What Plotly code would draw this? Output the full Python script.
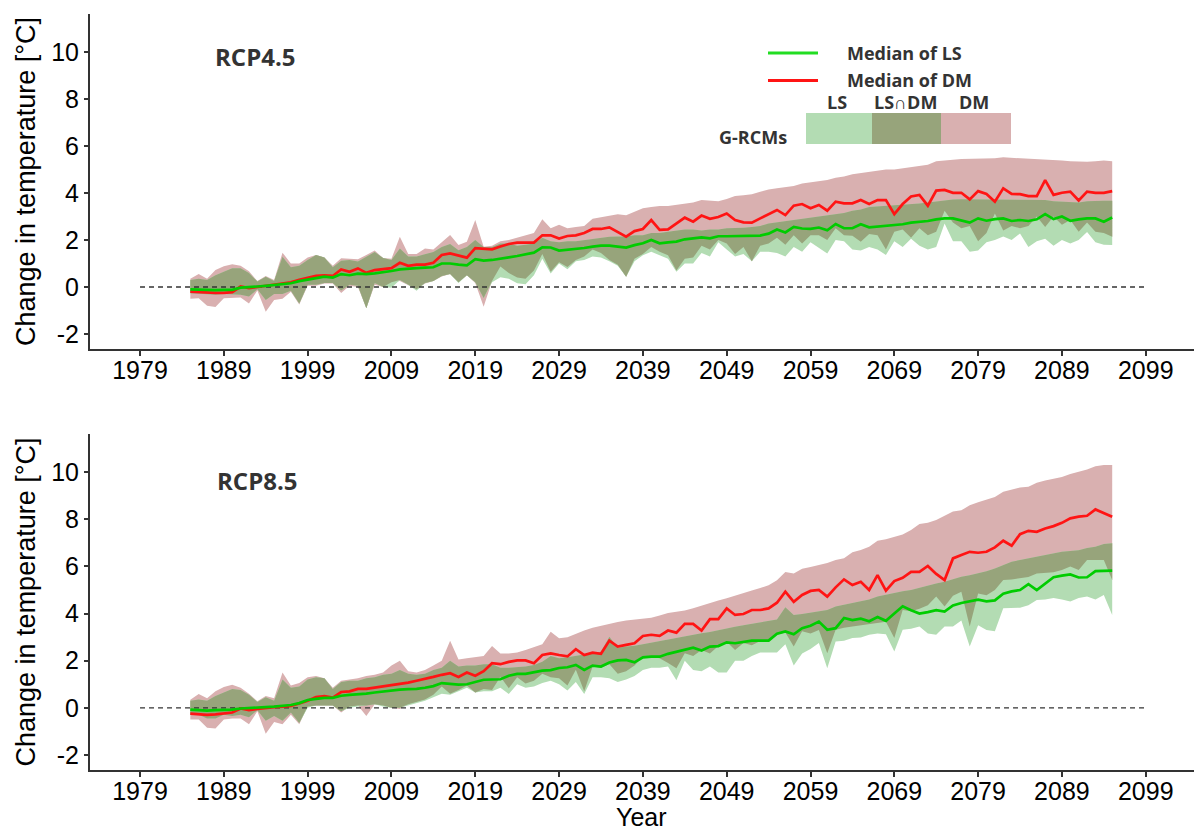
import numpy as np
import plotly.graph_objects as go

YEARS = list(range(1985, 2096))
TICK_YEARS = list(range(1979, 2100, 10))
Y_TICKS = [-2, 0, 2, 4, 6, 8, 10]

# ---------------- RCP4.5 ----------------
LS_MED_45 = [-0.10, -0.12, -0.13, -0.13, -0.12, -0.12, -0.03, -0.02, 0.02, 0.05,
             0.08, 0.12, 0.16, 0.25, 0.33, 0.38, 0.44, 0.40, 0.55, 0.50,
             0.57, 0.55, 0.58, 0.62, 0.68, 0.75, 0.79, 0.80, 0.82, 0.84,
             1.00, 1.00, 0.95, 0.92, 1.18, 1.12, 1.15, 1.22, 1.26, 1.32,
             1.38, 1.46, 1.69, 1.68, 1.55, 1.58, 1.60, 1.66, 1.72, 1.76,
             1.76, 1.72, 1.68, 1.78, 1.86, 2.00, 1.86, 1.90, 1.93, 2.03,
             2.07, 2.11, 2.07, 2.16, 2.16, 2.16, 2.17, 2.18, 2.19, 2.27,
             2.45, 2.32, 2.56, 2.49, 2.47, 2.53, 2.41, 2.68, 2.50, 2.50,
             2.67, 2.54, 2.57, 2.60, 2.61, 2.67, 2.74, 2.77, 2.81, 2.88,
             2.92, 2.92, 2.82, 2.74, 2.92, 2.82, 2.89, 2.92, 2.81, 2.85,
             2.81, 2.88, 3.10, 2.89, 3.00, 2.82, 2.88, 2.92, 2.92, 2.78,
             2.96]
DM_MED_45 = [-0.20, -0.22, -0.25, -0.25, -0.25, -0.22, 0.02, -0.05, 0.00, 0.05,
             0.08, 0.12, 0.20, 0.30, 0.40, 0.47, 0.50, 0.47, 0.75, 0.65,
             0.79, 0.60, 0.72, 0.75, 0.80, 1.03, 0.90, 0.95, 0.95, 1.03,
             1.36, 1.43, 1.35, 1.25, 1.65, 1.63, 1.60, 1.72, 1.83, 1.89,
             1.89, 1.89, 2.20, 2.20, 2.06, 2.17, 2.20, 2.30, 2.47, 2.47,
             2.54, 2.35, 2.14, 2.38, 2.47, 2.85, 2.43, 2.45, 2.70, 2.95,
             2.78, 3.04, 2.90, 2.98, 3.13, 2.85, 2.75, 2.74, 2.92, 3.09,
             3.28, 3.06, 3.46, 3.53, 3.35, 3.49, 3.25, 3.63, 3.56, 3.56,
             3.70, 3.53, 3.70, 3.70, 3.10, 3.53, 3.85, 3.92, 3.46, 4.10,
             4.13, 4.01, 4.01, 3.73, 4.08, 3.96, 3.63, 4.20, 3.96, 3.95,
             3.87, 3.87, 4.55, 3.92, 4.01, 4.06, 3.68, 4.06, 4.01, 4.01,
             4.08]
LS_HI_45 = [0.30, 0.35, 0.30, 0.50, 0.65, 0.80, 0.80, 0.60, 0.23, 0.44,
            0.25, 1.29, 0.84, 0.90, 1.15, 1.36, 1.26, 0.84, 1.12, 1.15,
            1.08, 1.30, 1.49, 1.23, 1.15, 1.64, 1.30, 1.30, 1.40, 1.49,
            1.70, 1.83, 1.56, 1.70, 2.00, 1.70, 1.70, 1.85, 1.85, 1.75,
            1.80, 1.85, 2.10, 1.95, 1.90, 1.95, 1.95, 2.00, 2.05, 2.10,
            2.14, 2.15, 2.15, 2.20, 2.20, 2.30, 2.30, 2.35, 2.40, 2.45,
            2.45, 2.40, 2.45, 2.45, 2.50, 2.50, 2.52, 2.55, 2.60, 2.70,
            2.75, 2.80, 2.85, 2.90, 2.95, 3.00, 3.05, 3.10, 3.15, 3.25,
            3.30, 3.40, 3.42, 3.45, 3.48, 3.50, 3.50, 3.55, 3.60, 3.65,
            3.70, 3.72, 3.73, 3.73, 3.73, 3.73, 3.73, 3.73, 3.73, 3.73,
            3.72, 3.70, 3.70, 3.65, 3.63, 3.62, 3.60, 3.65, 3.67, 3.67,
            3.67]
DM_HI_45 = [0.35, 0.55, 0.35, 0.72, 0.88, 0.97, 0.90, 0.67, 0.25, 0.47,
            0.30, 1.46, 1.00, 1.00, 1.25, 1.36, 1.26, 0.90, 1.22, 1.20,
            1.18, 1.36, 1.55, 1.23, 1.20, 2.14, 1.40, 1.40, 1.64, 1.60,
            1.90, 2.21, 1.79, 1.93, 2.85, 1.71, 1.75, 1.95, 2.00, 2.10,
            2.20, 2.30, 2.88, 2.50, 2.65, 2.50, 2.55, 2.60, 2.90, 2.97,
            3.05, 3.10, 3.05, 3.20, 3.35, 3.40, 3.45, 3.45, 3.50, 3.55,
            3.60, 3.70, 3.68, 3.65, 3.75, 3.87, 3.90, 3.95, 4.05, 4.15,
            4.20, 4.25, 4.30, 4.40, 4.45, 4.50, 4.55, 4.65, 4.70, 4.80,
            4.85, 4.90, 4.95, 5.00, 5.00, 5.05, 5.10, 5.15, 5.20, 5.35,
            5.40, 5.42, 5.45, 5.45, 5.45, 5.45, 5.48, 5.52, 5.50, 5.48,
            5.48, 5.46, 5.45, 5.42, 5.38, 5.35, 5.33, 5.33, 5.35, 5.38,
            5.35]
LS_LO_45 = [-0.27, -0.30, -0.33, -0.33, -0.30, -0.32, -0.33, -0.40, -0.10, -0.55,
            -0.30, -0.30, -0.16, -0.70, 0.10, 0.10, 0.17, 0.17, -0.15, 0.10,
            0.05, -0.91, 0.17, 0.00, -0.03, 0.30, 0.09, -0.16, 0.17, 0.25,
            0.47, 0.55, 0.17, 0.50, 0.20, -0.47, 0.20, 0.41, 0.35, 0.16,
            0.12, 0.50, 1.20, 0.57, 1.00, 0.75, 1.10, 1.15, 1.30, 1.25,
            1.10, 0.90, 0.44, 1.10, 1.35, 1.50, 1.35, 1.20, 0.65, 1.00,
            1.00, 1.45, 1.30, 1.90, 1.60, 1.30, 1.40, 1.10, 1.50, 1.50,
            1.45, 1.30, 1.70, 1.50, 1.90, 1.65, 1.43, 2.00, 1.95, 1.60,
            1.55, 1.70, 1.60, 1.36, 1.95, 1.70, 2.05, 1.75, 1.60, 1.70,
            2.70, 1.95, 1.95, 1.50, 1.55, 1.90, 2.00, 2.15, 2.00, 2.28,
            1.70, 1.95, 2.05, 1.75, 2.00, 1.85, 2.00, 2.34, 1.90, 1.80,
            1.79]
DM_LO_45 = [-0.50, -0.48, -0.80, -0.85, -0.48, -0.45, -0.45, -0.70, -0.15, -1.05,
            -0.55, -0.50, -0.20, -0.75, 0.05, 0.05, 0.15, 0.15, -0.26, 0.05,
            0.00, -0.91, 0.10, 0.00, 0.20, 0.25, 0.09, -0.10, 0.15, 0.25,
            0.45, 0.55, 0.20, 0.50, 0.17, -0.84, 0.25, 0.87, 0.60, 0.40,
            0.35, 0.70, 1.40, 0.65, 1.05, 0.85, 1.15, 1.30, 1.60, 1.45,
            1.15, 0.95, 0.44, 1.20, 1.40, 1.70, 1.50, 1.35, 0.70, 1.20,
            1.25, 1.75, 1.60, 2.00, 1.85, 1.40, 1.70, 1.10, 1.75, 1.85,
            2.10, 1.80, 2.20, 1.85, 2.20, 2.20, 2.00, 2.50, 2.20, 2.18,
            1.93, 2.25, 2.20, 1.60, 2.35, 2.45, 2.10, 2.50, 2.20, 2.35,
            3.25, 2.75, 2.50, 2.60, 1.95, 2.30, 3.13, 2.40, 2.60, 2.50,
            2.60, 3.00, 2.55, 3.00, 2.65, 2.85, 2.35, 2.75, 2.35, 2.30,
            2.14]

# ---------------- RCP8.5 ----------------
LS_MED_85 = [-0.08, -0.10, -0.12, -0.10, -0.10, -0.08, -0.03, 0.00, 0.02, 0.03,
             0.05, 0.07, 0.12, 0.20, 0.33, 0.38, 0.42, 0.42, 0.51, 0.55,
             0.57, 0.60, 0.65, 0.70, 0.74, 0.77, 0.79, 0.80, 0.85, 0.92,
             1.05, 1.00, 0.98, 1.00, 1.10, 1.19, 1.20, 1.21, 1.36, 1.44,
             1.44, 1.50, 1.58, 1.60, 1.69, 1.72, 1.82, 1.61, 1.79, 1.75,
             1.92, 2.01, 2.03, 1.93, 2.14, 2.17, 2.17, 2.29, 2.38, 2.45,
             2.55, 2.43, 2.60, 2.62, 2.78, 2.74, 2.80, 2.85, 2.85, 2.85,
             3.14, 3.24, 3.12, 3.38, 3.48, 3.66, 3.31, 3.38, 3.81, 3.72,
             3.78, 3.67, 3.85, 3.69, 4.00, 4.31, 4.14, 4.00, 4.06, 4.14,
             4.08, 4.34, 4.45, 4.52, 4.59, 4.52, 4.56, 4.84, 4.94, 5.00,
             5.25, 5.00, 5.28, 5.54, 5.61, 5.66, 5.53, 5.54, 5.80, 5.82,
             5.82]
DM_MED_85 = [-0.25, -0.27, -0.30, -0.28, -0.25, -0.20, -0.03, -0.10, -0.05, 0.00,
             0.03, 0.05, 0.08, 0.18, 0.30, 0.46, 0.50, 0.43, 0.67, 0.70,
             0.80, 0.80, 0.85, 0.92, 0.95, 1.00, 1.07, 1.15, 1.22, 1.31,
             1.40, 1.47, 1.31, 1.50, 1.36, 1.55, 1.89, 1.85, 1.95, 2.01,
             2.01, 1.89, 2.24, 2.31, 2.24, 2.18, 2.49, 2.24, 2.34, 2.29,
             2.85, 2.60, 2.67, 2.74, 3.05, 3.10, 3.05, 3.28, 3.19, 3.56,
             3.56, 3.28, 3.76, 3.76, 4.22, 3.94, 3.98, 4.15, 4.15, 4.22,
             4.46, 4.93, 4.50, 4.79, 4.96, 5.00, 4.72, 5.11, 5.45, 5.21,
             5.35, 5.00, 5.63, 4.97, 5.38, 5.52, 5.77, 5.77, 6.02, 5.68,
             5.42, 6.34, 6.48, 6.62, 6.58, 6.62, 6.81, 7.09, 6.88, 7.37,
             7.51, 7.47, 7.61, 7.71, 7.85, 8.04, 8.11, 8.15, 8.42, 8.25,
             8.11]
LS_HI_85 = [0.30, 0.35, 0.30, 0.50, 0.65, 0.80, 0.75, 0.55, 0.25, 0.45,
            0.30, 1.20, 0.85, 0.90, 1.20, 1.30, 1.25, 0.80, 1.10, 1.15,
            1.15, 1.25, 1.30, 1.40, 1.45, 1.60, 1.45, 1.40, 1.45, 1.60,
            1.70, 2.00, 1.75, 1.80, 1.80, 1.85, 1.85, 1.70, 1.70, 1.72,
            1.75, 1.82, 1.95, 2.20, 2.10, 2.15, 2.20, 2.25, 2.30, 2.38,
            3.02, 2.55, 2.60, 2.63, 2.70, 2.77, 2.82, 2.89, 2.95, 3.02,
            3.10, 3.16, 3.22, 3.30, 3.37, 3.44, 3.50, 3.56, 3.60, 3.66,
            3.75, 4.27, 3.94, 3.98, 4.04, 4.10, 4.15, 4.30, 4.37, 4.45,
            4.51, 4.60, 4.72, 4.80, 4.89, 4.95, 5.00, 5.10, 5.21, 5.28,
            5.35, 5.45, 5.56, 5.62, 5.70, 5.80, 5.91, 6.05, 6.20, 6.27,
            6.34, 6.40, 6.48, 6.55, 6.62, 6.65, 6.69, 6.78, 6.84, 6.95,
            6.98]
DM_HI_85 = [0.34, 0.59, 0.40, 0.70, 0.88, 0.98, 0.85, 0.60, 0.28, 0.50,
            0.40, 1.50, 0.95, 1.05, 1.30, 1.35, 1.25, 0.85, 1.15, 1.20,
            1.25, 1.35, 1.40, 1.50, 1.79, 2.00, 1.55, 1.50, 1.60, 1.80,
            2.00, 2.85, 2.05, 2.10, 2.15, 2.20, 2.62, 2.30, 2.30, 2.35,
            2.45, 2.59, 2.70, 3.23, 2.95, 2.99, 3.15, 3.28, 3.40, 3.49,
            3.55, 3.64, 3.70, 3.74, 3.78, 3.82, 3.92, 4.02, 4.08, 4.13,
            4.22, 4.34, 4.45, 4.55, 4.65, 4.77, 4.88, 4.98, 5.08, 5.20,
            5.41, 5.76, 5.70, 5.90, 5.98, 6.05, 6.15, 6.27, 6.35, 6.60,
            6.70, 6.84, 7.09, 7.15, 7.26, 7.35, 7.55, 7.80, 7.85, 7.97,
            8.15, 8.33, 8.38, 8.60, 8.72, 8.85, 8.95, 9.17, 9.25, 9.35,
            9.38, 9.55, 9.65, 9.73, 9.80, 9.92, 10.02, 10.11, 10.25, 10.30,
            10.30]
LS_LO_85 = [-0.30, -0.30, -0.45, -0.45, -0.30, -0.35, -0.30, -0.40, -0.10, -0.55,
            -0.35, -0.55, -0.20, -0.65, 0.00, 0.10, 0.10, 0.10, -0.15, 0.00,
            0.05, 0.10, 0.15, 0.05, 0.00, 0.00, 0.10, 0.20, 0.30, 0.45,
            0.60, 0.55, 0.70, 0.85, 0.65, 0.70, 0.70, 0.85, 0.59, 1.00,
            0.85, 0.90, 1.05, 1.15, 1.00, 0.73, 1.10, 0.59, 1.30, 1.30,
            1.25, 1.10, 1.20, 1.35, 1.60, 1.70, 1.70, 1.75, 1.17, 2.00,
            1.60, 1.55, 1.75, 1.50, 1.50, 2.00, 2.00, 2.20, 2.35, 2.35,
            2.35, 2.70, 1.80, 2.30, 2.50, 2.75, 1.68, 2.81, 2.85, 2.96,
            2.98, 3.10, 3.15, 3.12, 2.39, 3.31, 3.35, 3.45, 3.15, 3.10,
            3.45, 3.45, 3.70, 2.60, 3.50, 3.30, 3.25, 4.22, 4.25, 4.25,
            4.35, 4.58, 4.60, 4.66, 4.60, 4.51, 4.66, 4.72, 4.60, 4.79,
            3.94]
DM_LO_85 = [-0.50, -0.50, -0.85, -0.88, -0.50, -0.45, -0.45, -0.70, -0.15, -1.10,
            -0.60, -0.70, -0.30, -0.70, 0.05, 0.10, 0.10, 0.10, -0.20, 0.05,
            0.10, -0.35, 0.15, 0.10, 0.00, -0.05, 0.15, 0.25, 0.35, 0.55,
            0.90, 0.60, 0.75, 0.95, 0.65, 0.80, 0.75, 1.32, 0.83, 1.30,
            1.03, 1.15, 1.44, 1.30, 1.25, 0.95, 1.61, 0.70, 1.75, 1.70,
            1.85, 1.44, 1.55, 1.80, 2.17, 2.17, 2.10, 1.90, 1.68, 2.32,
            2.20, 2.45, 2.30, 2.62, 2.80, 2.45, 2.75, 2.65, 2.83, 2.80,
            3.10, 3.20, 2.60, 3.25, 3.15, 3.30, 2.32, 3.31, 3.40, 3.45,
            3.50, 3.55, 3.60, 3.65, 2.96, 4.15, 4.10, 4.20, 4.35, 4.72,
            4.30, 4.75, 4.93, 3.45, 4.85, 4.78, 5.00, 5.42, 5.45, 5.50,
            5.55, 5.70, 5.72, 5.75, 5.85, 6.00, 5.85, 6.27, 6.27, 6.27,
            5.42]

LS_FILL = "#b3dcb3"
BOTH_FILL = "#97a47b"
DM_FILL = "#d9b0b0"
LS_LINE = "#00cc00"
DM_LINE = "#ff1414"
AXIS_COL = "#333333"

W, H = 1194, 834
ML, MR, MT, MB = 90, 0, 14, 64
PW, PH = W - ML - MR, H - MT - MB


def px(xp):
    return (xp - ML) / PW


def py(yp):
    return (H - MB - yp) / PH


fig = go.Figure()


def add_panel(xa, ya, ls_lo, ls_hi, dm_lo, dm_hi, ls_med, dm_med):
    ls_lo, ls_hi = np.array(ls_lo), np.array(ls_hi)
    dm_lo, dm_hi = np.array(dm_lo), np.array(dm_hi)
    ov_lo = np.maximum(ls_lo, dm_lo)
    ov_hi = np.maximum(ov_lo, np.minimum(ls_hi, dm_hi))
    for lo, hi, col in [(dm_lo, dm_hi, DM_FILL), (ls_lo, ls_hi, LS_FILL),
                        (ov_lo, ov_hi, BOTH_FILL)]:
        fig.add_trace(go.Scatter(x=YEARS, y=lo, mode="lines",
                                 line=dict(width=0, color=col),
                                 xaxis=xa, yaxis=ya, showlegend=False,
                                 hoverinfo="skip"))
        fig.add_trace(go.Scatter(x=YEARS, y=hi, mode="lines",
                                 line=dict(width=0, color=col),
                                 fill="tonexty", fillcolor=col,
                                 xaxis=xa, yaxis=ya, showlegend=False,
                                 hoverinfo="skip"))
    fig.add_trace(go.Scatter(x=[TICK_YEARS[0], TICK_YEARS[-1]], y=[0, 0],
                             mode="lines",
                             line=dict(color="#333333", width=1.3, dash="5px,4px"),
                             xaxis=xa, yaxis=ya, showlegend=False))
    fig.add_trace(go.Scatter(x=YEARS, y=dm_med, mode="lines",
                             line=dict(color=DM_LINE, width=2.7),
                             xaxis=xa, yaxis=ya, showlegend=False))
    fig.add_trace(go.Scatter(x=YEARS, y=ls_med, mode="lines",
                             line=dict(color=LS_LINE, width=2.7),
                             xaxis=xa, yaxis=ya, showlegend=False))


add_panel("x", "y", LS_LO_45, LS_HI_45, DM_LO_45, DM_HI_45, LS_MED_45, DM_MED_45)
add_panel("x2", "y2", LS_LO_85, LS_HI_85, DM_LO_85, DM_HI_85, LS_MED_85, DM_MED_85)

XR = [1973.03, 2104.76]
YR = [-2.64, 11.62]
tickfont = dict(family="Liberation Sans, Arial, sans-serif", size=25, color="#000000")
titlefont = dict(family="Liberation Sans, Arial, sans-serif", size=27, color="#000000")
yearfont = dict(family="Liberation Sans, Arial, sans-serif", size=25, color="#000000")

xcommon = dict(range=XR, tickvals=TICK_YEARS, ticktext=[str(t) for t in TICK_YEARS],
               showline=True, linecolor=AXIS_COL, linewidth=2, ticks="outside",
               ticklen=5, tickwidth=1.5, tickcolor=AXIS_COL, showgrid=False,
               zeroline=False, tickfont=tickfont, fixedrange=True,
               ticklabelstandoff=-7)
ycommon = dict(range=YR, tickvals=Y_TICKS, ticktext=[str(t) for t in Y_TICKS],
               showline=True, linecolor=AXIS_COL, linewidth=2, ticks="outside",
               ticklen=4, tickwidth=1.5, tickcolor=AXIS_COL, showgrid=False,
               zeroline=False, tickfont=tickfont, fixedrange=True,
               title=dict(text="Change in temperature [°C]", font=titlefont, standoff=8))

top_dom = [py(349), 1.0]
bot_dom = [0.0, py(434)]

fig.update_layout(
    width=W, height=H,
    margin=dict(l=ML, r=MR, t=MT, b=MB),
    paper_bgcolor="white", plot_bgcolor="white",
    showlegend=False,
    xaxis=dict(**xcommon, anchor="y", domain=[0, 1]),
    yaxis=dict(**ycommon, anchor="x", domain=top_dom),
    xaxis2=dict(**xcommon, anchor="y2", domain=[0, 1]),
    yaxis2=dict(**ycommon, anchor="x2", domain=bot_dom),
)

lab_font = dict(family="Open Sans, sans-serif", size=24, color="#333333")
leg_font = dict(family="Open Sans, sans-serif", size=18, color="#333333")

annotations = [
    dict(text="Year", x=px(641), y=py(817), xref="paper", yref="paper",
         showarrow=False, font=yearfont, xanchor="center", yanchor="middle"),
    dict(text="<b>RCP4.5</b>", x=px(255), y=py(56), xref="paper", yref="paper",
         showarrow=False, font=lab_font, xanchor="center", yanchor="middle"),
    dict(text="<b>RCP8.5</b>", x=px(257), y=py(481), xref="paper", yref="paper",
         showarrow=False, font=lab_font, xanchor="center", yanchor="middle"),
    dict(text="<b>Median of LS</b>", x=px(845), y=py(53), xref="paper", yref="paper",
         showarrow=False, font=leg_font, xanchor="left", yanchor="middle"),
    dict(text="<b>Median of DM</b>", x=px(845), y=py(80), xref="paper", yref="paper",
         showarrow=False, font=leg_font, xanchor="left", yanchor="middle"),
    dict(text="<b>LS</b>", x=px(837), y=py(102), xref="paper", yref="paper",
         showarrow=False, font=leg_font, xanchor="center", yanchor="middle"),
    dict(text="<b>LS∩DM</b>", x=px(905), y=py(102), xref="paper", yref="paper",
         showarrow=False, font=leg_font, xanchor="center", yanchor="middle"),
    dict(text="<b>DM</b>", x=px(974), y=py(102), xref="paper", yref="paper",
         showarrow=False, font=leg_font, xanchor="center", yanchor="middle"),
    dict(text="<b>G-RCMs</b>", x=px(789), y=py(137), xref="paper", yref="paper",
         showarrow=False, font=leg_font, xanchor="right", yanchor="middle"),
]

shapes = [
    dict(type="line", xref="paper", yref="paper", x0=px(768), x1=px(818),
         y0=py(53), y1=py(53), line=dict(color="#22dd22", width=3)),
    dict(type="line", xref="paper", yref="paper", x0=px(768), x1=px(818),
         y0=py(80.5), y1=py(80.5), line=dict(color=DM_LINE, width=3)),
    dict(type="rect", xref="paper", yref="paper", x0=px(806), x1=px(872),
         y0=py(144), y1=py(113), fillcolor=LS_FILL, line=dict(width=0)),
    dict(type="rect", xref="paper", yref="paper", x0=px(872), x1=px(941),
         y0=py(144), y1=py(113), fillcolor=BOTH_FILL, line=dict(width=0)),
    dict(type="rect", xref="paper", yref="paper", x0=px(941), x1=px(1011),
         y0=py(144), y1=py(113), fillcolor=DM_FILL, line=dict(width=0)),
]

fig.update_layout(annotations=annotations, shapes=shapes)

fig.write_html("out.html")
